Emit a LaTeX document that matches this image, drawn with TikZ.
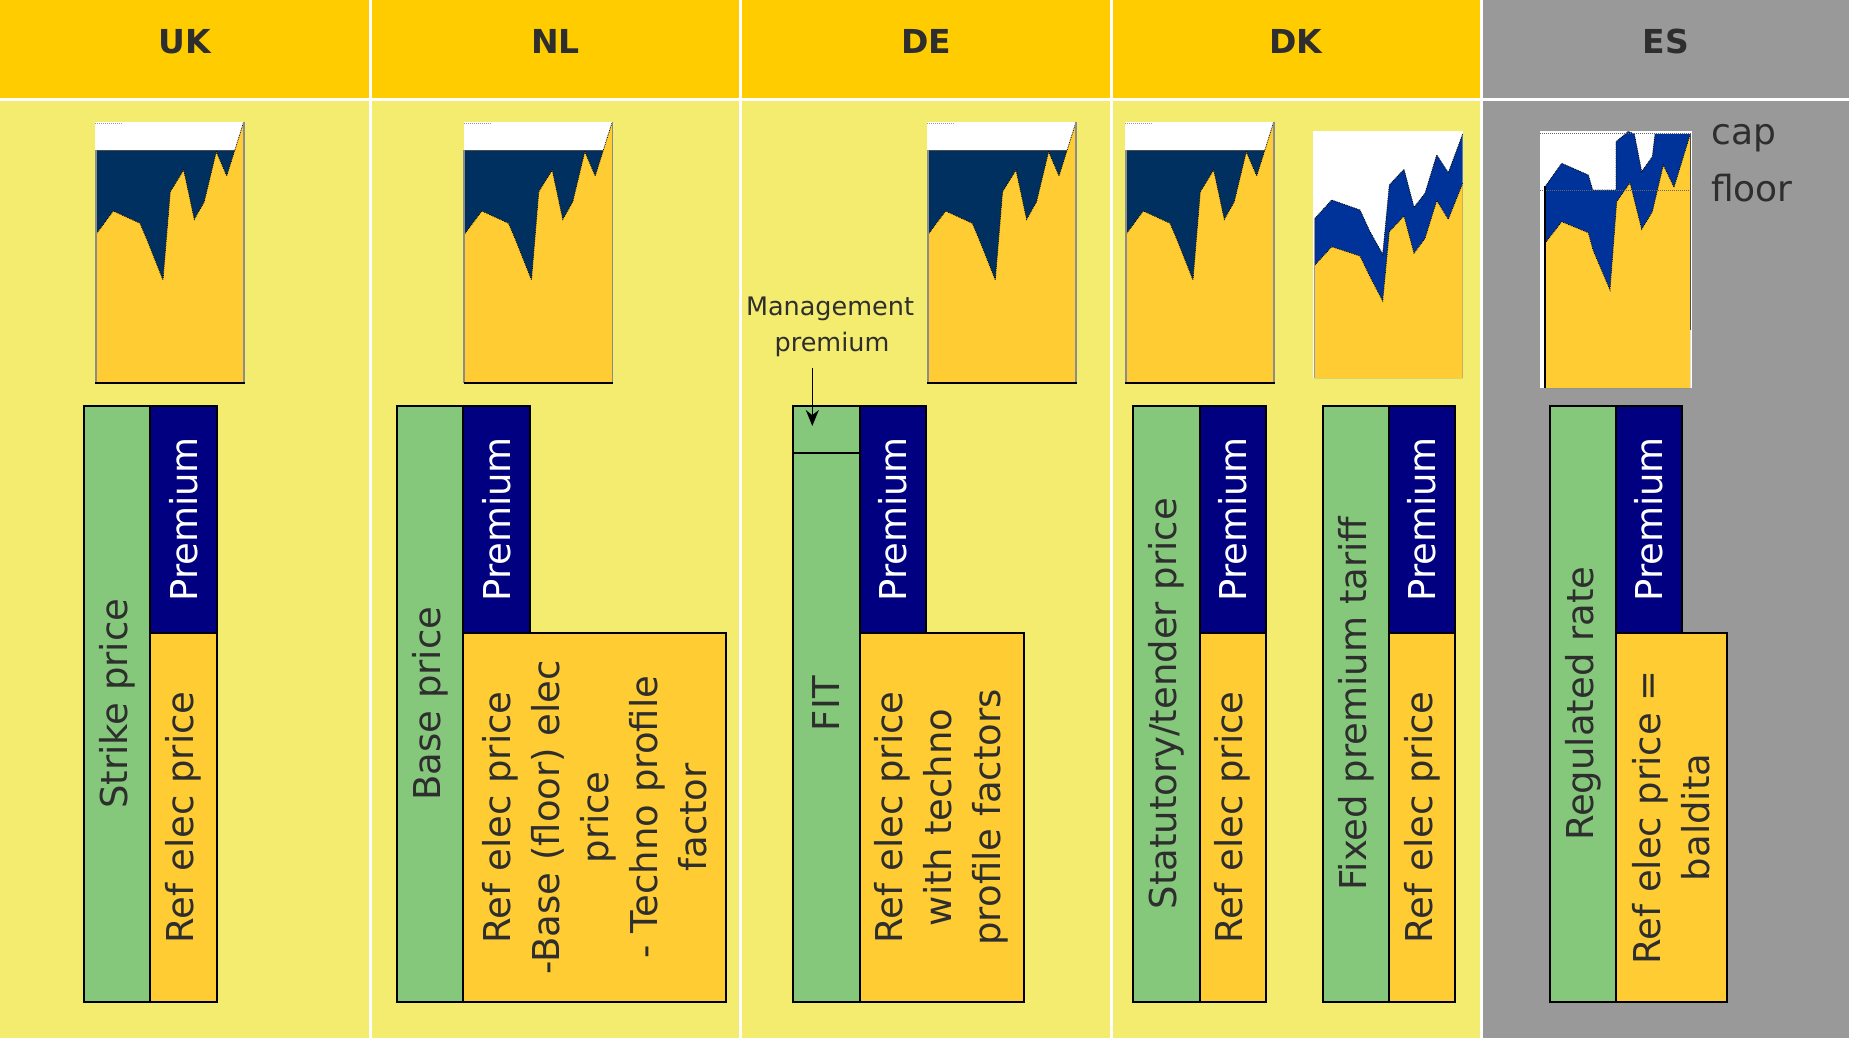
\documentclass[tikz,border=0pt]{standalone}
\usepackage{fontspec}
\setmainfont{DejaVu Sans}
\usetikzlibrary{arrows.meta,calc}
\definecolor{hdr}{HTML}{FFCC00}
\definecolor{bodyc}{HTML}{F4EC6E}
\definecolor{esg}{HTML}{999999}
\definecolor{grn}{HTML}{85C87B}
\definecolor{nvy}{HTML}{000080}
\definecolor{ybx}{HTML}{FFCC33}
\definecolor{chdark}{HTML}{00305F}
\definecolor{chblue}{HTML}{003399}
\definecolor{txt}{HTML}{2E2E2E}
\newcommand\bx[6]{\node[#6, anchor=north west, minimum width={(#4)-(#2)}, minimum height={(#5)-(#3)}, inner sep=0pt, outer sep=0pt] (#1) at (#2,#3) {};}
\newcommand\ukchart[2]{%
\begin{scope}[shift={(#1,#2)}]
\fill[white] (0,0) rectangle (149,261.6);
\fill[chdark] (1.7,28.3) rectangle (148.3,261.6);
\fill[ybx] (1.7,111.6) -- (18.3,89.3) -- (45,101.6) -- (52,118) -- (68,158.3) -- (75.3,70) -- (88.7,48.3) -- (99.3,97.7) -- (109.3,80) -- (121.3,30) -- (131.7,54.3) -- (148.3,1.6) -- (148.3,261.6) -- (1.7,261.6) -- cycle;
\draw[black, line width=0.8pt, densely dotted] (1.7,111.6) -- (18.3,89.3) -- (45,101.6) -- (52,118) -- (68,158.3) -- (75.3,70) -- (88.7,48.3) -- (99.3,97.7) -- (109.3,80) -- (121.3,30) -- (131.7,54.3) -- (148.3,1.6);
\draw[black!70, line width=1pt] (1.7,28.3) -- (139.9,28.3);
\draw[black!45, line width=2pt] (0.9,28) -- (0.9,261.6);
\draw[black!45, line width=1.5pt] (148.8,0) -- (148.8,261.6);
\draw[black, line width=2pt] (0,261.6) -- (149.5,261.6);
\draw[black!40, densely dotted, line width=1pt] (0,1.5) -- (26.7,1.5);
\end{scope}}
\begin{document}
\begin{tikzpicture}[x=1pt,y=-1pt,
  gbox/.style={fill=grn, draw=black, line width=2pt},
  nbox/.style={fill=nvy, draw=black, line width=2pt},
  ybox/.style={fill=ybx, draw=black, line width=2pt},
  hdrtxt/.style={font=\fontsize{33}{40}\selectfont\bfseries, text=txt, inner sep=0pt},
  btxt/.style={rotate=90, font=\fontsize{37}{49}\selectfont, text=txt, align=center, inner sep=0pt},
  ptxt/.style={btxt, text=white},
  smtxt/.style={font=\fontsize{25.5}{37}\selectfont, text=txt, inner sep=0pt},
  lbltxt/.style={font=\fontsize{36}{43}\selectfont, text=txt, inner sep=0pt}]
\fill[white] (0,0) rectangle (1849,1038);
\path[use as bounding box] (0,0) rectangle (1849,1038);
% columns
\bx{hUK}{0}{0}{369}{98.5}{fill=hdr}
\bx{hNL}{372}{0}{739}{98.5}{fill=hdr}
\bx{hDE}{742}{0}{1110}{98.5}{fill=hdr}
\bx{hDK}{1112.5}{0}{1480}{98.5}{fill=hdr}
\bx{hES}{1483}{0}{1849}{98.5}{fill=esg}
\bx{cUK}{0}{101.5}{369}{1038}{fill=bodyc}
\bx{cNL}{372}{101.5}{739}{1038}{fill=bodyc}
\bx{cDE}{742}{101.5}{1110}{1038}{fill=bodyc}
\bx{cDK}{1112.5}{101.5}{1480}{1038}{fill=bodyc}
\bx{cES}{1483}{101.5}{1849}{1038}{fill=esg}
\node[hdrtxt, anchor=base] (tUK) at (184.5,54) {UK};
\node[hdrtxt, anchor=base] (tNL) at (555.5,54) {NL};
\node[hdrtxt, anchor=base] (tDE) at (926,54) {DE};
\node[hdrtxt, anchor=base] (tDK) at (1296,54) {DK};
\node[hdrtxt, anchor=base] (tES) at (1666,54) {ES};
% charts
\ukchart{95}{121.7}
\ukchart{463.5}{121.7}
\ukchart{927.3}{121.7}
\ukchart{1125}{121.7}
% DK2 chart
\fill[white] (1313,131) rectangle (1463,378);
\fill[chblue] (1315,218.3) -- (1331.7,200) -- (1360,210) -- (1370,231.7) -- (1382.7,254.3) -- (1389.3,185) -- (1404,169.3) -- (1414,207.3) -- (1425,193.3) -- (1436.7,155) -- (1448.3,172.7) -- (1462.7,134) -- (1462.7,378) -- (1315,378) -- cycle;
\fill[ybx] (1315,265) -- (1331.7,246.7) -- (1360,256) -- (1370,276.7) -- (1382.7,301) -- (1389.3,231.7) -- (1404,216) -- (1414,253.3) -- (1425,238.3) -- (1436.7,200.7) -- (1448.3,219.3) -- (1462.7,183.3) -- (1462.7,378) -- (1315,378) -- cycle;
\draw[black, line width=0.8pt, densely dotted] (1315,218.3) -- (1331.7,200) -- (1360,210) -- (1370,231.7) -- (1382.7,254.3) -- (1389.3,185) -- (1404,169.3) -- (1414,207.3) -- (1425,193.3) -- (1436.7,155) -- (1448.3,172.7) -- (1462.7,134);
\draw[black, line width=0.8pt, densely dotted] (1315,265) -- (1331.7,246.7) -- (1360,256) -- (1370,276.7) -- (1382.7,301) -- (1389.3,231.7) -- (1404,216) -- (1414,253.3) -- (1425,238.3) -- (1436.7,200.7) -- (1448.3,219.3) -- (1462.7,183.3);
\draw[black!40, line width=1.5pt] (1314.5,218) -- (1314.5,378);
% ES chart
\fill[white] (1540,131) rectangle (1692,388);
\fill[chblue] (1545,186.7) -- (1561.7,163.3) -- (1588.3,175) -- (1592.7,190) -- (1616,190) -- (1616,141.7) -- (1628.3,131.5) -- (1634.3,134) -- (1641.7,171.7) -- (1652.3,156.7) -- (1655,134) -- (1690,134) -- (1690,388) -- (1545,388) -- cycle;
\fill[ybx] (1545,243.3) -- (1561.7,221.7) -- (1588.3,232.7) -- (1593,250) -- (1610,290) -- (1616.7,201.7) -- (1630,182.7) -- (1641.7,229.3) -- (1652.3,211.7) -- (1663.3,165) -- (1674,187.3) -- (1690,135) -- (1690,388) -- (1545,388) -- cycle;
\draw[black, line width=0.8pt, densely dotted] (1545,243.3) -- (1561.7,221.7) -- (1588.3,232.7) -- (1593,250) -- (1610,290) -- (1616.7,201.7) -- (1630,182.7) -- (1641.7,229.3) -- (1652.3,211.7) -- (1663.3,165) -- (1674,187.3) -- (1690,135);
\draw[black, line width=0.8pt, densely dotted] (1545,186.7) -- (1561.7,163.3) -- (1588.3,175) -- (1592.7,190) -- (1616,190) -- (1616,141.7) -- (1628.3,131.5) -- (1634.3,134) -- (1641.7,171.7) -- (1652.3,156.7) -- (1655,134);
\draw[black!60, densely dotted, line width=1pt] (1540,134) -- (1692,134);
\draw[black!60, densely dotted, line width=1pt] (1540,190) -- (1692,190);
\draw[black, line width=1.5pt] (1545,186) -- (1545,388);
\draw[black!70, line width=1.5pt] (1690.5,134) -- (1690.5,330);
\node[lbltxt, anchor=base west] (cap) at (1711,145) {cap};
\node[lbltxt, anchor=base west] (floor) at (1711,201.7) {floor};
% UK bars
\bx{ukg}{84.3}{405.7}{150}{1001.7}{gbox}
\bx{uky}{150}{633}{216.5}{1001.7}{ybox}
\bx{ukn}{150}{405.7}{216.5}{633}{nbox}
\node[btxt] (ukgt) at (ukg.center) {Strike price};
\node[ptxt] (uknt) at (ukn.center) {Premium};
\node[btxt] (ukyt) at (uky.center) {Ref elec price};
% NL bars
\bx{nlg}{397}{405.7}{463.2}{1001.7}{gbox}
\bx{nly}{463.2}{633}{726}{1001.7}{ybox}
\bx{nln}{463.2}{405.7}{529.5}{633}{nbox}
\node[btxt] (nlgt) at (nlg.center) {Base price};
\node[ptxt] (nlnt) at (nln.center) {Premium};
\node[btxt] (nlyt) at (nly.center) {Ref elec price\\-Base (floor) elec\\price\\- Techno profile\\factor};
% DE bars
\bx{deg}{793.3}{453.3}{859.5}{1001.7}{gbox}
\bx{detop}{793.3}{405.7}{859.5}{453.3}{gbox}
\bx{dey}{859.5}{633}{1023.5}{1001.7}{ybox}
\bx{den}{859.5}{405.7}{925.8}{633}{nbox}
\node[btxt] (degt) at ($(detop.north)!0.5!(deg.south)$) {FIT};
\node[ptxt] (dent) at (den.center) {Premium};
\node[btxt] (deyt) at (dey.center) {Ref elec price\\with techno\\profile factors};
\node[smtxt, anchor=base] (mg1) at (830,315) {Management};
\node[smtxt, anchor=base] (mg2) at (832,351.7) {premium};
\coordinate (mgs) at (812.3,367.7);
\coordinate (mgt) at (812.3,426);
\draw[line width=1.5pt, -{Stealth[length=16pt,width=13pt]}] (mgs) -- (mgt);
% DK bars
\bx{dkag}{1133.3}{405.7}{1199.5}{1001.7}{gbox}
\bx{dkay}{1199.5}{633}{1266}{1001.7}{ybox}
\bx{dkan}{1199.5}{405.7}{1266}{633}{nbox}
\node[btxt] (dkagt) at (dkag.center) {Statutory/tender price};
\node[ptxt] (dkant) at (dkan.center) {Premium};
\node[btxt] (dkayt) at (dkay.center) {Ref elec price};
\bx{dkbg}{1323.2}{405.7}{1389}{1001.7}{gbox}
\bx{dkby}{1389}{633}{1455}{1001.7}{ybox}
\bx{dkbn}{1389}{405.7}{1455}{633}{nbox}
\node[btxt] (dkbgt) at (dkbg.center) {Fixed premium tariff};
\node[ptxt] (dkbnt) at (dkbn.center) {Premium};
\node[btxt] (dkbyt) at (dkby.center) {Ref elec price};
% ES bars
\bx{esg}{1550}{405.7}{1616}{1001.7}{gbox}
\bx{esy}{1616}{633}{1726.7}{1001.7}{ybox}
\bx{esn}{1616}{405.7}{1682.3}{633}{nbox}
\node[btxt] (esgt) at (esg.center) {Regulated rate};
\node[ptxt] (esnt) at (esn.center) {Premium};
\node[btxt] (esyt) at (esy.center) {Ref elec price =\\baldita};
\end{tikzpicture}
\end{document}
